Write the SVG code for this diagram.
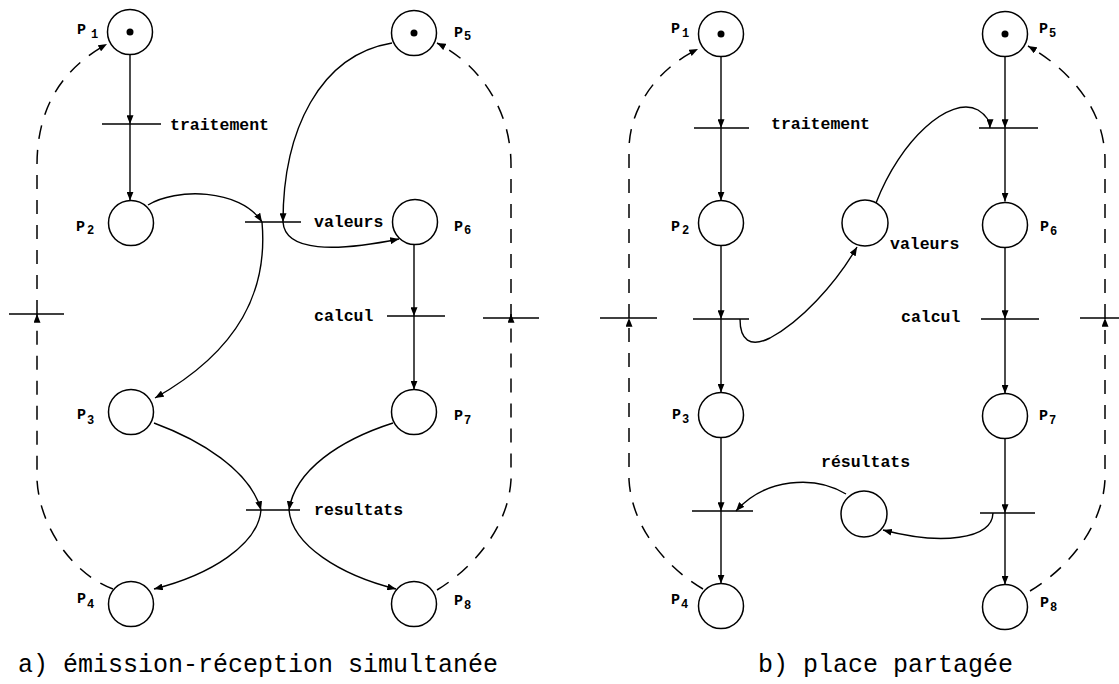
<svg xmlns="http://www.w3.org/2000/svg" width="1119" height="684" viewBox="0 0 1119 684">
<defs>
<marker id="ah" viewBox="0 0 10 8" refX="10" refY="4" markerWidth="9" markerHeight="7" markerUnits="userSpaceOnUse" orient="auto"><path d="M0,0 L10,4 L0,8 z" fill="#000"/></marker>
</defs>
<style>
.pl{fill:#fff;stroke:#000;stroke-width:1.5}
.tk{fill:#000}
.tr{stroke:#000;stroke-width:1.6}
.ar{fill:none;stroke:#000;stroke-width:1.4;marker-end:url(#ah)}
.ln{fill:none;stroke:#000;stroke-width:1.4}
.da{fill:none;stroke:#000;stroke-width:1.5;stroke-dasharray:14 11}
.dm{fill:none;stroke:#000;stroke-width:1.5;stroke-dasharray:14 11;marker-end:url(#ah)}
.lb{font-family:"Liberation Mono",monospace;font-size:16.5px;font-weight:bold;fill:#000}
.pn{font-family:"Liberation Mono",monospace;font-size:15px;font-weight:bold;fill:#000}
.ps{font-family:"Liberation Mono",monospace;font-size:12px;font-weight:bold;fill:#000}
.cap{font-family:"Liberation Mono",monospace;font-size:25px;fill:#000}
</style>
<rect width="1119" height="684" fill="#fff"/>

<g id="connectors">
<!-- diagram a -->
<path class="ar" d="M130,54.5 L130,124"/>
<path class="ar" d="M130,124 L130,200.5"/>
<path class="ar" d="M148,205 C175,188 240,188 262,222"/>
<path class="ar" d="M262,222 C268,290 240,350 155,398"/>
<path class="ar" d="M392,43 C320,55 283,130 283,222"/>
<path class="ar" d="M283,222 C285,252 335,252 399,239"/>
<path class="ar" d="M414,244.5 L414,316"/>
<path class="ar" d="M414,316 L414,389.5"/>
<path class="ar" d="M154,423 C200,440 250,470 261,510"/>
<path class="ar" d="M393,423 C340,440 295,470 289,510"/>
<path class="ar" d="M261,510 C258,545 210,575 154,589"/>
<path class="ar" d="M289,510 C292,545 340,575 396,589"/>
<path class="dm" d="M113,589 C75,575 40,530 37,480 L37,314"/>
<path class="dm" d="M37,314 L37,165 C37,110 60,70 107,44"/>
<path class="dm" d="M437,590 C470,570 508,530 511,480 L511,314"/>
<path class="dm" d="M511,318 L511,165 C511,110 480,65 437,43"/>
<!-- diagram b -->
<path class="ar" d="M721,56.5 L721,128"/>
<path class="ar" d="M721,128 L721,200.5"/>
<path class="ar" d="M721,245.5 L721,319"/>
<path class="ar" d="M721,319 L721,392.5"/>
<path class="ar" d="M721,437.5 L721,511"/>
<path class="ar" d="M721,511 L721,583.5"/>
<path class="ar" d="M1005,56.5 L1005,128"/>
<path class="ar" d="M1005,128 L1005,201.5"/>
<path class="ar" d="M1005,247.5 L1005,319"/>
<path class="ar" d="M1005,319 L1005,393.5"/>
<path class="ar" d="M1005,438.5 L1005,513"/>
<path class="ar" d="M1005,513 L1005,584.5"/>
<path class="ar" d="M740,319 C740,340 750,348 770,338 C800,322 835,285 857,247"/>
<path class="ar" d="M876,203 C900,140 950,95 978,110 C986,115 990,120 990,128"/>
<path class="ar" d="M846,494 C815,475 765,478 736,511"/>
<path class="ar" d="M993,513 C992,540 940,545 883,530"/>
<path class="dm" d="M703,589 C670,570 632,530 629,480 L629,318"/>
<path class="dm" d="M629,318 L629,150 C629,110 655,70 698,49"/>
<path class="dm" d="M1030,591 C1065,570 1102,530 1105,480 L1105,318"/>
<path class="dm" d="M1105,318 L1105,160 C1105,110 1070,70 1028,46"/>
</g>

<!-- diagram a nodes -->
<g id="p1a"><circle class="pl" cx="130" cy="32" r="22.5"/><circle class="tk" cx="130" cy="32" r="3.5"/><text class="pn" x="77" y="34">P</text><text class="ps" x="91" y="38">1</text></g>
<g id="p2a"><circle class="pl" cx="131" cy="223" r="22.5"/><text class="pn" x="76" y="231">P</text><text class="ps" x="87" y="234">2</text></g>
<g id="p3a"><circle class="pl" cx="131" cy="412" r="22.5"/><text class="pn" x="77" y="419">P</text><text class="ps" x="87" y="424">3</text></g>
<g id="p4a"><circle class="pl" cx="131" cy="604" r="22.5"/><text class="pn" x="77" y="603">P</text><text class="ps" x="87" y="608">4</text></g>
<g id="p5a"><circle class="pl" cx="414" cy="33" r="22.5"/><circle class="tk" cx="414" cy="33" r="3.5"/><text class="pn" x="454" y="37">P</text><text class="ps" x="464" y="40">5</text></g>
<g id="p6a"><circle class="pl" cx="415" cy="222" r="22.5"/><text class="pn" x="454" y="231">P</text><text class="ps" x="464" y="234">6</text></g>
<g id="p7a"><circle class="pl" cx="414" cy="412" r="22.5"/><text class="pn" x="454" y="420">P</text><text class="ps" x="464" y="424">7</text></g>
<g id="p8a"><circle class="pl" cx="414" cy="604" r="22.5"/><text class="pn" x="454" y="605">P</text><text class="ps" x="464" y="609">8</text></g>
<g id="t-traitement-a"><line class="tr" x1="102" y1="124" x2="161" y2="124"/><text class="lb" x="170" y="130">traitement</text></g>
<g id="t-valeurs-a"><line class="tr" x1="245" y1="222" x2="301" y2="222"/><text class="lb" x="314" y="227">valeurs</text></g>
<g id="t-calcul-a"><line class="tr" x1="387" y1="316" x2="445" y2="316"/><text class="lb" x="314" y="321">calcul</text></g>
<g id="t-resultats-a"><line class="tr" x1="246" y1="510" x2="300" y2="510"/><text class="lb" x="314" y="515" font-weight="normal">resultats</text></g>
<g id="t-left-a"><line class="tr" x1="9" y1="314" x2="64" y2="314"/></g>
<g id="t-right-a"><line class="tr" x1="483" y1="318" x2="539" y2="318"/></g>

<!-- diagram b nodes -->
<g id="p1b"><circle class="pl" cx="721" cy="34" r="22.5"/><circle class="tk" cx="721" cy="34" r="3.5"/><text class="pn" x="671" y="33">P</text><text class="ps" x="682" y="37">1</text></g>
<g id="p2b"><circle class="pl" cx="721" cy="223" r="22.5"/><text class="pn" x="671" y="231">P</text><text class="ps" x="682" y="234">2</text></g>
<g id="p3b"><circle class="pl" cx="721" cy="415" r="22.5"/><text class="pn" x="672" y="419">P</text><text class="ps" x="682" y="423">3</text></g>
<g id="p4b"><circle class="pl" cx="721" cy="606" r="22.5"/><text class="pn" x="671" y="604">P</text><text class="ps" x="681" y="608">4</text></g>
<g id="p5b"><circle class="pl" cx="1005" cy="34" r="22.5"/><circle class="tk" cx="1005" cy="34" r="3.5"/><text class="pn" x="1039" y="33">P</text><text class="ps" x="1049" y="37">5</text></g>
<g id="p6b"><circle class="pl" cx="1005" cy="225" r="22.5"/><text class="pn" x="1040" y="231">P</text><text class="ps" x="1050" y="235">6</text></g>
<g id="p7b"><circle class="pl" cx="1005" cy="416" r="22.5"/><text class="pn" x="1039" y="420">P</text><text class="ps" x="1049" y="424">7</text></g>
<g id="p8b"><circle class="pl" cx="1005" cy="607" r="22.5"/><text class="pn" x="1040" y="607">P</text><text class="ps" x="1050" y="611">8</text></g>
<g id="p-valeurs-b"><circle class="pl" cx="865" cy="223" r="23"/><text class="lb" x="890" y="249">valeurs</text></g>
<g id="p-resultats-b"><circle class="pl" cx="864" cy="514" r="23"/><text class="lb" x="821" y="467">résultats</text></g>
<g id="t-traitement-b"><line class="tr" x1="694" y1="128" x2="749" y2="128"/><text class="lb" x="771" y="129">traitement</text></g>
<g id="t-p5-b"><line class="tr" x1="979" y1="128" x2="1038" y2="128"/></g>
<g id="t-p2-b"><line class="tr" x1="693" y1="319" x2="749" y2="319"/></g>
<g id="t-calcul-b"><line class="tr" x1="981" y1="319" x2="1039" y2="319"/><text class="lb" x="901" y="322">calcul</text></g>
<g id="t-p3-b"><line class="tr" x1="692" y1="511" x2="753" y2="511"/></g>
<g id="t-p7-b"><line class="tr" x1="980" y1="513" x2="1035" y2="513"/></g>
<g id="t-left-b"><line class="tr" x1="600" y1="318" x2="657" y2="318"/></g>
<g id="t-right-b"><line class="tr" x1="1080" y1="318" x2="1119" y2="318"/></g>

<g id="captions">
<text class="cap" x="18" y="672">a) émission-réception simultanée</text>
<text class="cap" x="758" y="672">b) place partagée</text>
</g>
</svg>
